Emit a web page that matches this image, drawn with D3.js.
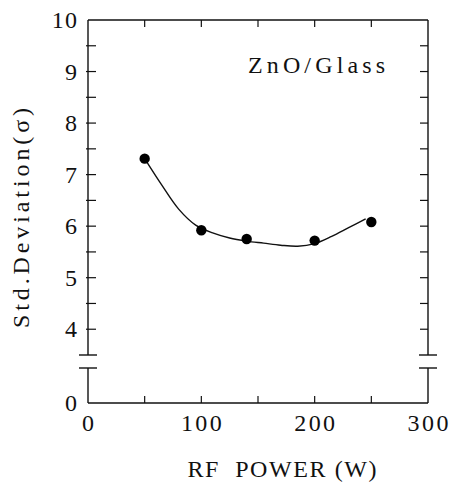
<!DOCTYPE html>
<html>
<head>
<meta charset="utf-8">
<script src="https://cdn.jsdelivr.net/npm/d3@7"></script>
<style>
  html, body { margin: 0; padding: 0; background: #fff; }
  svg text { font-family: "Liberation Serif", "Times New Roman", serif; fill: #111; white-space: pre; }
</style>
</head>
<body>
<div id="chart"></div>
<script>
// ---- data ----
const rfPower = [50, 100, 140, 200, 250];
const stdDev = [7.31, 5.92, 5.75, 5.72, 6.08];
const fitX = [50, 65, 80, 95, 110, 125, 140, 155, 170, 185, 200, 215, 230, 245];
const fitY = [7.31, 6.80, 6.33, 6.02, 5.87, 5.77, 5.71, 5.67, 5.63, 5.61, 5.66, 5.80, 5.97, 6.14];
const xTickLabels = [0, 100, 200, 300];
const yTickLabels = [4, 5, 6, 7, 8, 9, 10];
const yLowTickLabels = [0];
const sampleLabel = "ZnO/Glass";
const xTitle = "RF  POWER (W)";
const yTitle = "Std.Deviation(\u03C3)";

const W = 450, H = 485;
const pLeft = 88, pRight = 428, pTop = 20, pBottom = 403;
const breakTop = 355, breakBot = 368;

const svg = d3.select("#chart").append("svg").attr("width", W).attr("height", H);

const x = d3.scaleLinear().domain([0, 300]).range([pLeft, pRight]);
const yUp = d3.scaleLinear().domain([3.5, 10]).range([breakTop, pTop]);
const yLow = d3.scaleLinear().domain([0, 0.68]).range([pBottom, breakBot]);

const stroke = "#111";
const g = svg.append("g");

// frame: top, bottom, left and right with break
g.append("line").attr("x1", pLeft).attr("x2", pRight).attr("y1", pTop).attr("y2", pTop).attr("stroke", stroke).attr("stroke-width", 1.4);
g.append("line").attr("x1", pLeft).attr("x2", pRight).attr("y1", pBottom).attr("y2", pBottom).attr("stroke", stroke).attr("stroke-width", 1.4);
[pLeft, pRight].forEach(px => {
  g.append("line").attr("x1", px).attr("x2", px).attr("y1", pTop).attr("y2", breakTop).attr("stroke", stroke).attr("stroke-width", 1.4);
  g.append("line").attr("x1", px).attr("x2", px).attr("y1", breakBot).attr("y2", pBottom).attr("stroke", stroke).attr("stroke-width", 1.4);
  [breakTop, breakBot].forEach(py => {
    g.append("line").attr("x1", px - 9).attr("x2", px + 9).attr("y1", py).attr("y2", py).attr("stroke", stroke).attr("stroke-width", 1.4);
  });
});

// x ticks (top and bottom, inward)
const xTicks = d3.range(50, 300, 50);
xTicks.forEach(v => {
  g.append("line").attr("x1", x(v)).attr("x2", x(v)).attr("y1", pBottom).attr("y2", pBottom - 7).attr("stroke", stroke).attr("stroke-width", 1.2);
  g.append("line").attr("x1", x(v)).attr("x2", x(v)).attr("y1", pTop).attr("y2", pTop + 7).attr("stroke", stroke).attr("stroke-width", 1.2);
});

// y ticks (left and right, inward) every 0.5
const yTicks = d3.range(4, 10, 0.5);
yTicks.forEach(v => {
  g.append("line").attr("x1", pLeft - 2).attr("x2", pLeft + 8).attr("y1", yUp(v)).attr("y2", yUp(v)).attr("stroke", stroke).attr("stroke-width", 1.2);
  g.append("line").attr("x1", pRight - 8).attr("x2", pRight).attr("y1", yUp(v)).attr("y2", yUp(v)).attr("stroke", stroke).attr("stroke-width", 1.2);
});

// tick labels
xTickLabels.forEach(v => {
  const s = String(v);
  svg.append("text").attr("x", x(v)).attr("y", 431).attr("text-anchor", "middle")
    .attr("font-size", 24).attr("textLength", s.length * 13.6).attr("lengthAdjust", "spacing").text(s);
});
yTickLabels.forEach(v => {
  const s = String(v);
  svg.append("text").attr("x", 77).attr("y", yUp(v) + 8).attr("text-anchor", "end")
    .attr("font-size", 24).attr("textLength", s.length * 12.6).attr("lengthAdjust", "spacing").text(s);
});
yLowTickLabels.forEach(v => {
  svg.append("text").attr("x", 77).attr("y", yLow(v) + 8).attr("text-anchor", "end")
    .attr("font-size", 24).text(String(v));
});

// fitted curve
const line = d3.line().x((d, i) => x(fitX[i])).y(d => yUp(d)).curve(d3.curveCatmullRom.alpha(0.5));
g.append("path").attr("d", line(fitY)).attr("fill", "none").attr("stroke", stroke).attr("stroke-width", 1.4);

// data points
g.selectAll("circle.pt").data(stdDev).enter().append("circle")
  .attr("cx", (d, i) => x(rfPower[i])).attr("cy", d => yUp(d)).attr("r", 5.2).attr("fill", "#000");

// sample label
svg.append("text").attr("x", 248).attr("y", 73).attr("font-size", 24)
  .attr("textLength", 137).attr("lengthAdjust", "spacing").text(sampleLabel);

// axis titles
svg.append("text").attr("x", 282).attr("y", 477).attr("text-anchor", "middle").attr("font-size", 24)
  .attr("textLength", 189).attr("lengthAdjust", "spacing").text(xTitle);
svg.append("text").attr("transform", "translate(29,218) rotate(-90)").attr("text-anchor", "middle").attr("font-size", 24)
  .attr("textLength", 220).attr("lengthAdjust", "spacing").text(yTitle);
</script>
</body>
</html>
